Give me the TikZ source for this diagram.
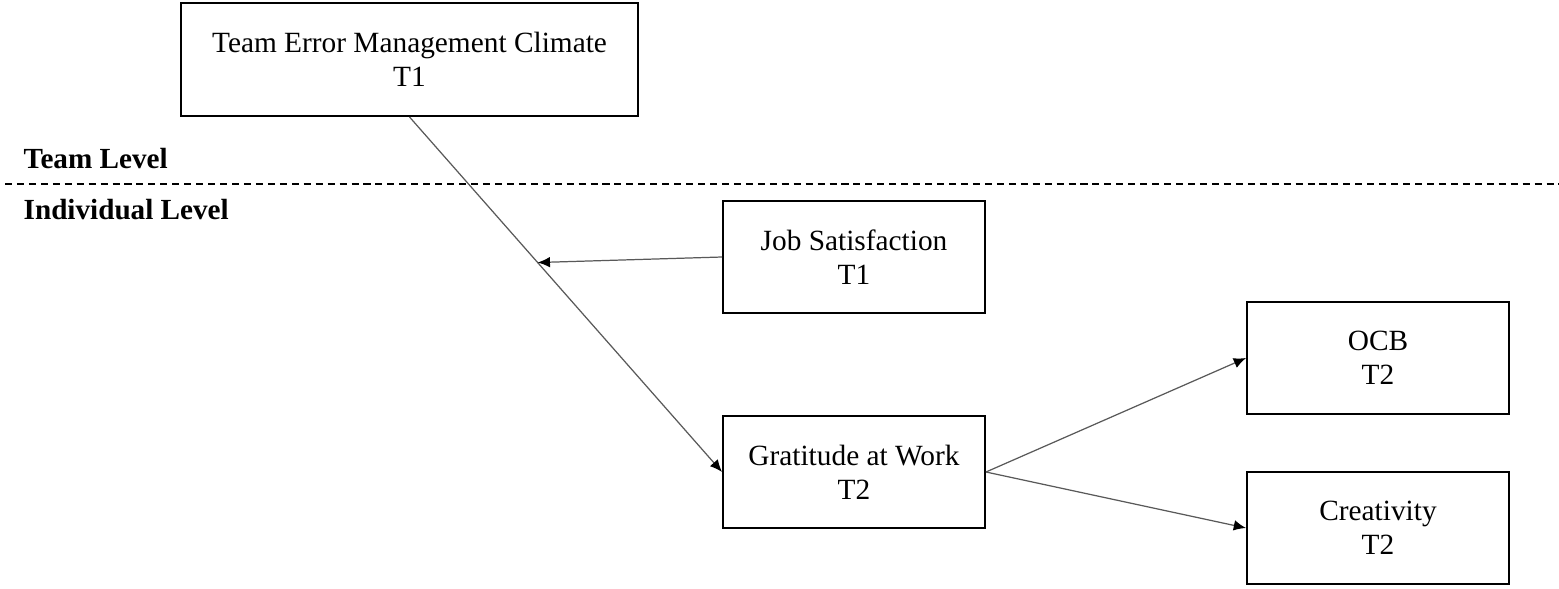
\documentclass[tikz,border=0pt]{standalone}
\usepackage{fontspec}
\setmainfont{Liberation Serif}
\usetikzlibrary{arrows.meta,calc}
\tikzset{
  var box/.style={draw, line width=1.1pt, minimum width=5.24cm, minimum height=2.24cm,
    align=center, font=\fontsize{16.7}{19.5}\selectfont},
  level label/.style={anchor=west, font=\fontsize{16.6}{19}\selectfont\bfseries},
  path arrow/.style={draw=black!65, line width=0.7pt, -{Latex[length=7pt,width=6pt,color=black]}},
}

\begin{document}
\begin{tikzpicture}[x=1cm, y=1cm]
  \useasboundingbox (0,0) rectangle (31.18,-11.78);
  % team level
  \node[var box, minimum width=9.14cm, minimum height=2.26cm] (temc) at (8.19,-1.19)
    {Team Error Management Climate\\T1};
  \node[level label] (team) at (0.35,-3.18) {Team Level};
  \draw[line width=1pt, dash pattern=on 4pt off 2.8pt] (0.1,-3.68) -- (31.18,-3.68);
  \node[level label] (indiv) at (0.35,-4.2) {Individual Level};
  % individual level
  \node[var box] (jobsat) at (17.08,-5.14) {Job Satisfaction\\T1};
  \node[var box] (grat)   at (17.08,-9.44) {Gratitude at Work\\T2};
  \node[var box] (ocb)    at (27.56,-7.16) {OCB\\T2};
  \node[var box] (creat)  at (27.56,-10.56) {Creativity\\T2};
  % paths
  \draw[path arrow] (temc.south) -- (grat.west);
  \coordinate (mod) at ($(temc.south)!0.41!(grat.west)$);
  \draw[path arrow] (jobsat.west) -- (mod);
  \draw[path arrow] (grat.east) -- (ocb.west);
  \draw[path arrow] (grat.east) -- (creat.west);
\end{tikzpicture}
\end{document}
